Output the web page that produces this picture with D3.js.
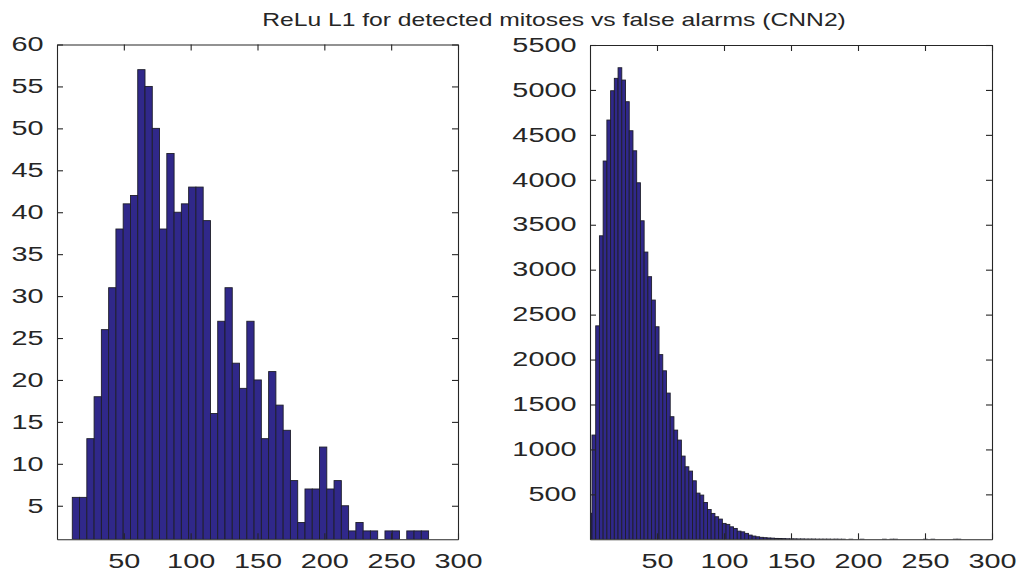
<!DOCTYPE html>
<html>
<head>
<meta charset="utf-8">
<script src="https://cdn.jsdelivr.net/npm/d3@7"></script>
<style>
  html, body { margin: 0; padding: 0; background: #fff; }
  svg { display: block; font-family: "Liberation Sans", Arial, Helvetica, sans-serif; }
</style>
</head>
<body>
<svg id="chart" width="1021" height="573"></svg>
<script>
const chartTitle = "ReLu L1 for detected mitoses vs false alarms (CNN2)";

// Left panel: ReLu L1 response of detected mitoses (50 histogram bins)
const mitosisBinStart = 6.0;
const mitosisBinWidth = 5.44;
const mitosisCounts = [
  1, 6, 6, 13, 18, 26, 31, 38, 41, 42,
  57, 55, 50, 38, 47, 40, 41, 43, 43, 39,
  16, 27, 31, 22, 19, 27, 20, 13, 21, 17,
  14, 8, 3, 7, 7, 12, 7, 8, 5, 2,
  3, 2, 2, 1, 2, 2, 1, 2, 2, 2
];
const mitosisYDomain = [1, 60];
const mitosisYTicks = [5, 10, 15, 20, 25, 30, 35, 40, 45, 50, 55, 60];

// Right panel: ReLu L1 response of false alarms (100 histogram bins)
const alarmBinStart = -1.3;
const alarmBinWidth = 2.78;
const alarmCounts = [
  290, 1160, 2375, 3377, 4209, 4665, 4991, 5129, 5247, 5110,
  4869, 4546, 4323, 3967, 3544, 3196, 2922, 2662, 2365, 2055,
  1875, 1627, 1364, 1215, 1104, 926, 807, 759, 651, 514,
  492, 410, 332, 288, 251, 225, 177, 166, 139, 121,
  91, 83, 66, 47, 36, 28, 22, 18, 15, 13,
  10, 9, 8, 6, 5, 5, 4, 4, 3, 3,
  3, 2, 2, 2, 2, 1, 2, 1, 1, 0,
  1, 0, 0, 1, 0, 0, 0, 0, 0, 1,
  0, 1, 1, 0, 0, 0, 0, 0, 0, 0,
  1, 0, 1, 0, 0, 0, 0, 0, 1, 1
];
const alarmYDomain = [0, 5500];
const alarmYTicks = [500, 1000, 1500, 2000, 2500, 3000, 3500, 4000, 4500, 5000, 5500];

const xDomain = [0, 300];
const xTicks = [50, 100, 150, 200, 250, 300];

const svg = d3.select("#chart");
const ink = "#262626";
const barFill = "#30288a";
const barEdge = "#1e1e2a";
const fontSize = 19.5;
const textStretch = 1.48;   // the figure's lettering is set wide
const tickLen = 6;
const plain = d3.format("d");

// Title, widened to span the same run as the figure lettering
const title = svg.append("text")
  .attr("x", 0).attr("y", 0)
  .attr("text-anchor", "middle")
  .attr("font-size", 18.6)
  .attr("fill", ink)
  .text(chartTitle);
const titleWidth = title.node().getComputedTextLength();
title.attr("transform", `translate(554,26) scale(${584 / titleWidth},1)`);

function stretchLabels(sel) {
  sel.selectAll(".tick text").each(function () {
    const t = d3.select(this);
    const x = +t.attr("x") || 0;
    t.attr("x", x / textStretch).attr("transform", `scale(${textStretch},1)`);
  });
}

function drawPanel(id, box, counts, binStart, binWidth, yDomain, yTicks) {
  const x = d3.scaleLinear().domain(xDomain).range([box.left, box.right]);
  const y = d3.scaleLinear().domain(yDomain).range([box.bottom, box.top]);

  svg.append("clipPath").attr("id", id)
    .append("rect")
    .attr("x", box.left).attr("y", box.top)
    .attr("width", box.right - box.left).attr("height", box.bottom - box.top);

  const bins = counts.map((c, i) => ({
    x0: binStart + i * binWidth,
    x1: binStart + (i + 1) * binWidth,
    count: c
  })).filter(d => d.count > 0);

  svg.append("g").attr("clip-path", `url(#${id})`)
    .selectAll("rect").data(bins).join("rect")
    .attr("x", d => x(d.x0))
    .attr("width", d => x(d.x1) - x(d.x0))
    .attr("y", d => y(Math.max(d.count, yDomain[0])))
    .attr("height", d => Math.max(0, y(yDomain[0]) - y(Math.max(d.count, yDomain[0]))))
    .attr("fill", barFill)
    .attr("stroke", barEdge)
    .attr("stroke-width", 0.9);

  const style = g => {
    g.selectAll("path.domain").attr("stroke", ink).attr("stroke-width", 1.1);
    g.selectAll(".tick line").attr("stroke", ink).attr("stroke-width", 1.1);
    g.selectAll(".tick text").attr("fill", ink).attr("font-size", fontSize)
      .attr("font-family", "'Liberation Sans', Arial, Helvetica, sans-serif");
  };

  const gx = svg.append("g").attr("transform", `translate(0,${box.bottom})`)
    .call(d3.axisBottom(x).tickValues(xTicks).tickFormat(plain)
      .tickSizeInner(-tickLen).tickSizeOuter(0).tickPadding(14.5))
    .call(style);
  stretchLabels(gx);

  svg.append("g").attr("transform", `translate(0,${box.top})`)
    .call(d3.axisTop(x).tickValues(xTicks).tickSizeInner(-tickLen).tickSizeOuter(0).tickFormat(""))
    .call(style);

  const gy = svg.append("g").attr("transform", `translate(${box.left},0)`)
    .call(d3.axisLeft(y).tickValues(yTicks).tickFormat(plain)
      .tickSizeInner(-tickLen).tickSizeOuter(0).tickPadding(13.5))
    .call(style);
  stretchLabels(gy);

  svg.append("g").attr("transform", `translate(${box.right},0)`)
    .call(d3.axisRight(y).tickValues(yTicks).tickSizeInner(-tickLen).tickSizeOuter(0).tickFormat(""))
    .call(style);
}

drawPanel("clip-mitoses", { left: 57, right: 458, top: 44.5, bottom: 539.3 },
  mitosisCounts, mitosisBinStart, mitosisBinWidth, mitosisYDomain, mitosisYTicks);

drawPanel("clip-alarms", { left: 590, right: 992, top: 45, bottom: 539.3 },
  alarmCounts, alarmBinStart, alarmBinWidth, alarmYDomain, alarmYTicks);
</script>
</body>
</html>
